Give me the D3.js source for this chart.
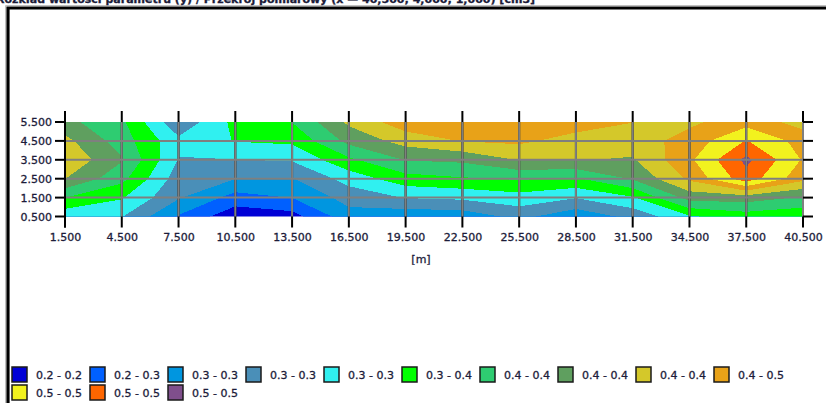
<!DOCTYPE html>
<html>
<head>
<meta charset="utf-8">
<script src="https://cdn.jsdelivr.net/npm/d3@7"></script>
<style>
  body { margin: 0; background: #fff; }
  svg text { font-family: "DejaVu Sans", Verdana, sans-serif; font-size: 11px; fill: #1c1c3a; stroke: #1c1c3a; stroke-width: 0.3px; }
</style>
</head>
<body>
<div id="chart"></div>
<script>
// positions of the grid nodes
const xValues = [1.5, 4.5, 7.5, 10.5, 13.5, 16.5, 19.5, 22.5, 25.5, 28.5, 31.5, 34.5, 37.5, 40.5];
const yValues = [5.5, 4.5, 3.5, 2.5, 1.5, 0.5];

// measured values, one row per depth (top row first)
const row55 = [0.3825, 0.355, 0.28, 0.3325, 0.3505, 0.405, 0.44, 0.445, 0.4475, 0.4375, 0.4255, 0.42, 0.44, 0.415];
const row45 = [0.4075, 0.3625, 0.3063, 0.3263, 0.33, 0.3825, 0.41, 0.4263, 0.43, 0.415, 0.4125, 0.435, 0.4763, 0.44];
const row35 = [0.42, 0.3775, 0.2988, 0.2995, 0.3025, 0.345, 0.3763, 0.38, 0.4013, 0.4013, 0.3975, 0.445, 0.5063, 0.4475];
const row25 = [0.4005, 0.3575, 0.2875, 0.2755, 0.2738, 0.31, 0.34, 0.3475, 0.3525, 0.3475, 0.3775, 0.43, 0.49, 0.4325];
const row15 = [0.3505, 0.3275, 0.2775, 0.24, 0.2505, 0.285, 0.3013, 0.305, 0.315, 0.3013, 0.3225, 0.385, 0.3875, 0.3725];
const row05 = [0.3075, 0.3013, 0.2475, 0.2075, 0.215, 0.265, 0.2575, 0.26, 0.2825, 0.2575, 0.2825, 0.3225, 0.3375, 0.33];

// colour classes
const thresholds = [0.2, 0.225, 0.25, 0.275, 0.3, 0.325, 0.35, 0.375, 0.4, 0.425, 0.45, 0.475, 0.5];
const classLabels = ["0.2 - 0.2", "0.2 - 0.3", "0.3 - 0.3", "0.3 - 0.3", "0.3 - 0.3", "0.3 - 0.4", "0.4 - 0.4",
  "0.4 - 0.4", "0.4 - 0.4", "0.4 - 0.5", "0.5 - 0.5", "0.5 - 0.5", "0.5 - 0.5"];
const classColors = ["#0000d6", "#0060ff", "#0096e0", "#4a8fb8", "#30f0f0", "#00ff00", "#2ecc71",
  "#5f9f5f", "#d4c82a", "#e8a218", "#f2f21e", "#ff6600", "#7f4f8c"];

const titleText = "Rozkład wartości parametru (y) / Przekrój pomiarowy (x — 40,500; 4,000; 1,000) [cm3]";

const W = 826, H = 403;
const plot = {left: 65, right: 803, top: 122, bottom: 216.5};

const svg = d3.select("#chart").append("svg")
  .attr("width", W)
  .attr("height", H);

// frame
svg.append("path")
  .attr("d", `M5.5,${H} V5.5 H${W}`)
  .attr("fill", "none").attr("stroke", "#c0c0c0").attr("stroke-width", 1);
svg.append("path")
  .attr("d", `M8,${H} V8 H${W}`)
  .attr("fill", "none").attr("stroke", "#000").attr("stroke-width", 3.2);

// title, cut off by the top of the window
svg.append("text")
  .attr("x", -4).attr("y", 3)
  .style("font-weight", "bold").style("font-size", "11px")
  .text(titleText);

const x = d3.scaleLinear().domain([1.5, 40.5]).range([plot.left, plot.right]);
const y = d3.scaleLinear().domain([0.5, 5.5]).range([plot.bottom, plot.top]);

// contours over the grid of nodes
const grid = [].concat(row55, row45, row35, row25, row15, row05);
const nx = xValues.length, ny = yValues.length;
const contours = d3.contours().size([nx, ny]).thresholds(thresholds)(grid);

const proj = d3.geoTransform({
  point: function(gx, gy) {
    this.stream.point(x(xValues[0] + (gx - 0.5) * 3), y(yValues[0] - (gy - 0.5)));
  }
});
const path = d3.geoPath(proj);

svg.append("clipPath").attr("id", "plotclip")
  .append("rect")
  .attr("x", plot.left).attr("y", plot.top)
  .attr("width", plot.right - plot.left).attr("height", plot.bottom - plot.top);

const color = d3.scaleOrdinal().domain(thresholds).range(classColors);

svg.append("g")
  .attr("clip-path", "url(#plotclip)")
  .selectAll("path")
  .data(contours)
  .join("path")
    .attr("d", path)
    .attr("fill", d => color(d.value))
    .attr("shape-rendering", "crispEdges");

// grid lines + tick marks
const gridCol = "#7f7f7f";
const tk = 11;

const gx = svg.append("g");
gx.selectAll("line.tick")
  .data(xValues)
  .join("line")
    .attr("x1", d => x(d)).attr("x2", d => x(d))
    .attr("y1", plot.top - tk).attr("y2", plot.bottom + tk)
    .attr("stroke", "#000").attr("stroke-width", 2);
gx.selectAll("line.grid")
  .data(xValues.slice(1))
  .join("line")
    .attr("x1", d => x(d)).attr("x2", d => x(d))
    .attr("y1", plot.top).attr("y2", plot.bottom)
    .attr("stroke", gridCol).attr("stroke-width", 2);

const gy = svg.append("g");
gy.selectAll("line.ltick")
  .data(yValues)
  .join("line")
    .attr("x1", plot.left - tk + 1).attr("x2", plot.left)
    .attr("y1", d => y(d)).attr("y2", d => y(d))
    .attr("stroke", "#000").attr("stroke-width", 2);
gy.selectAll("line.rtick")
  .data(yValues)
  .join("line")
    .attr("x1", plot.right).attr("x2", plot.right + tk - 1)
    .attr("y1", d => y(d)).attr("y2", d => y(d))
    .attr("stroke", "#000").attr("stroke-width", 2);
gy.selectAll("line.grid")
  .data(yValues.slice(1, -1))
  .join("line")
    .attr("x1", plot.left + 1).attr("x2", plot.right)
    .attr("y1", d => y(d)).attr("y2", d => y(d))
    .attr("stroke", gridCol).attr("stroke-width", 2);

// left axis line
svg.append("line")
  .attr("x1", plot.left).attr("x2", plot.left)
  .attr("y1", plot.top - tk).attr("y2", plot.bottom + tk)
  .attr("stroke", "#000").attr("stroke-width", 2);

// axis labels through d3 axes (tick marks drawn above)
const fmt = d3.format(".3f");
svg.append("g")
  .attr("transform", `translate(0,${plot.bottom})`)
  .call(d3.axisBottom(x).tickValues(xValues).tickFormat(fmt).tickSize(tk).tickPadding(6))
  .call(g => g.select(".domain").remove())
  .call(g => g.selectAll(".tick line").remove())
  .call(g => g.selectAll("text").attr("font-family", null).attr("font-size", null).attr("fill", null));

svg.append("g")
  .attr("transform", `translate(${plot.left},0)`)
  .call(d3.axisLeft(y).tickValues(yValues).tickFormat(fmt).tickSize(tk).tickPadding(2))
  .call(g => g.select(".domain").remove())
  .call(g => g.selectAll(".tick line").remove())
  .call(g => g.selectAll("text").attr("font-family", null).attr("font-size", null).attr("fill", null));

svg.append("text")
  .attr("x", 421).attr("y", 263)
  .attr("text-anchor", "middle")
  .text("[m]");

// legend
const legend = svg.append("g");
const item = legend.selectAll("g")
  .data(classLabels)
  .join("g")
    .attr("transform", (d, i) => `translate(${12 + (i % 10) * 78},${367 + Math.floor(i / 10) * 18})`);
item.append("rect")
  .attr("width", 15).attr("height", 15)
  .attr("fill", (d, i) => classColors[i])
  .attr("stroke", "#1a1a1a").attr("stroke-width", 1.5);
item.append("text")
  .attr("x", 24).attr("y", 8)
  .attr("dy", "0.35em")
  .text(d => d);
</script>
</body>
</html>
